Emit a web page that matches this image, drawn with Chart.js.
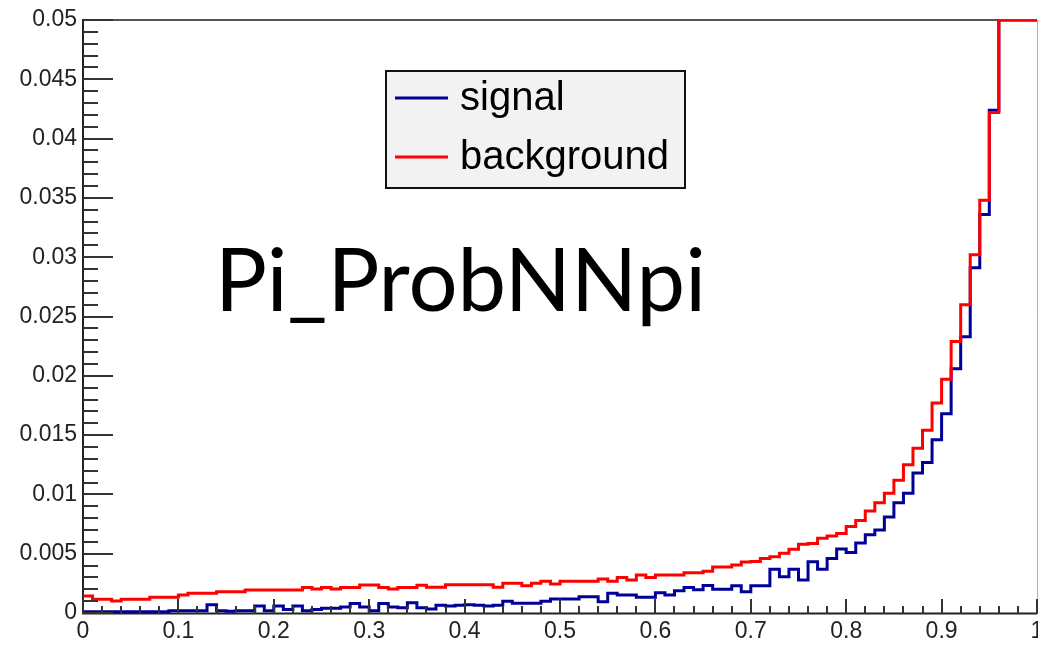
<!DOCTYPE html>
<html>
<head>
<meta charset="utf-8">
<script src="https://cdn.jsdelivr.net/npm/chart.js@4.4.1/dist/chart.umd.min.js"></script>
<style>
  html, body { margin: 0; padding: 0; background: #ffffff; }
  #wrap { width: 1038px; height: 648px; position: relative; }
</style>
</head>
<body>
<div id="wrap"><canvas id="c" width="1038" height="648"></canvas></div>
<script>
// ---- data (100 bins from 0 to 1) ----
const X_MIN = 0, X_MAX = 1, N_BINS = 100;
const Y_MIN = 0, Y_MAX = 0.05;

const seriesNames = ['signal', 'background'];
const plotTitle = 'Pi_ProbNNpi';

const signal = [
  0.0001, 0.0001, 0.0001, 0.0001, 0.0001, 0.0001, 0.0001, 0.0001, 0.0001, 0.0002,
  0.0002, 0.0002, 0.0002, 0.0007, 0.0002, 0.00015, 0.0002, 0.0002, 0.0006, 0.0002,
  0.0006, 0.0003, 0.0006, 0.0002, 0.0003, 0.0004, 0.0004, 0.0005, 0.0008, 0.0005,
  0.0002, 0.0008, 0.0005, 0.00045, 0.00087, 0.00045, 0.00034, 0.00065, 0.0006, 0.00065,
  0.0007, 0.00065, 0.0006, 0.00065, 0.001, 0.00082, 0.00082, 0.00082, 0.001, 0.00118,
  0.00118, 0.00118, 0.00138, 0.00138, 0.00095, 0.00166, 0.00152, 0.00152, 0.00132, 0.00132,
  0.00171, 0.00152, 0.00188, 0.00216, 0.00196, 0.00232, 0.002, 0.002, 0.0023, 0.0018,
  0.0023, 0.0023, 0.00368, 0.00306, 0.00368, 0.00278, 0.00433, 0.00368, 0.0046, 0.0054,
  0.0051, 0.0059, 0.0066, 0.0070, 0.0081, 0.0093, 0.0101, 0.0118, 0.0127, 0.0146,
  0.0168, 0.0206, 0.0233, 0.0291, 0.0336, 0.0424, 0.056, 0.072, 0.095, 0.14
];

const background = [
  0.00143, 0.00115, 0.00115, 0.00101, 0.00115, 0.00115, 0.00115, 0.00132, 0.00132, 0.00132,
  0.00152, 0.00166, 0.00166, 0.00166, 0.0018, 0.0018, 0.0018, 0.00194, 0.00194, 0.00194,
  0.00194, 0.00194, 0.00194, 0.00216, 0.00202, 0.00216, 0.00202, 0.00216, 0.00216, 0.00236,
  0.00236, 0.00216, 0.00202, 0.00216, 0.00214, 0.00234, 0.00217, 0.00217, 0.00239, 0.00239,
  0.00239, 0.00239, 0.00239, 0.00217, 0.0025, 0.0025, 0.0023, 0.0025, 0.00267, 0.00245,
  0.00267, 0.00267, 0.00267, 0.00267, 0.00287, 0.00267, 0.003, 0.00278, 0.0032, 0.003,
  0.0032, 0.0032, 0.0032, 0.0034, 0.0034, 0.00352, 0.00387, 0.00387, 0.00405, 0.0043,
  0.00435, 0.0046, 0.00475, 0.00503, 0.00537, 0.0058, 0.00585, 0.0063, 0.0065, 0.0067,
  0.0073, 0.0078, 0.0086, 0.0093, 0.0101, 0.0112, 0.0125, 0.0139, 0.0154, 0.0177,
  0.0197, 0.0229, 0.026, 0.0302, 0.0348, 0.0422, 0.053, 0.068, 0.09, 0.13
];

const yTickLabels = ['0', '0.005', '0.01', '0.015', '0.02', '0.025', '0.03', '0.035', '0.04', '0.045', '0.05'];
const xTickLabels = ['0', '0.1', '0.2', '0.3', '0.4', '0.5', '0.6', '0.7', '0.8', '0.9', '1'];

// ---- build step points (left edge of every bin + closing right edge) ----
function stepPoints(vals) {
  const w = (X_MAX - X_MIN) / N_BINS;
  const pts = vals.map((v, i) => ({ x: X_MIN + i * w, y: Math.min(v, Y_MAX) }));
  pts.push({ x: X_MAX, y: Math.min(vals[vals.length - 1], Y_MAX) });
  return pts;
}

const COLORS = { signal: '#000099', background: '#ff0000' };
const AXIS_FONT = '"Liberation Sans", Arial, Helvetica, sans-serif';

// ---- ROOT-like frame, ticks, legend and overlay title ----
const rootDecor = {
  id: 'rootDecor',
  beforeDatasetsDraw(chart) {
    const { ctx, chartArea: a } = chart;
    ctx.save();
    ctx.lineCap = 'butt';
    ctx.strokeStyle = '#555555'; ctx.lineWidth = 2;
    ctx.beginPath(); ctx.moveTo(a.left, a.top); ctx.lineTo(a.right, a.top); ctx.stroke();
    ctx.strokeStyle = '#b0b0b0'; ctx.lineWidth = 1;
    ctx.beginPath(); ctx.moveTo(a.right + 0.5, a.top); ctx.lineTo(a.right + 0.5, a.bottom); ctx.stroke();
    ctx.strokeStyle = '#222222'; ctx.lineWidth = 2;
    ctx.beginPath(); ctx.moveTo(a.left, a.top - 1); ctx.lineTo(a.left, a.bottom + 1); ctx.stroke();
    ctx.beginPath(); ctx.moveTo(a.left - 1, a.bottom + 0.5); ctx.lineTo(a.right, a.bottom + 0.5); ctx.stroke();
    ctx.restore();
  },
  afterDatasetsDraw(chart) {
    const { ctx, chartArea: a, scales: { x, y } } = chart;
    ctx.save();
    ctx.lineCap = 'butt';
    // y ticks (inside, pointing right)
    ctx.strokeStyle = '#333333'; ctx.lineWidth = 2;
    for (let k = 0; k <= 50; k++) {
      const v = k * 0.001;
      const py = Math.round(y.getPixelForValue(v));
      const len = (k % 5 === 0) ? 30 : 15;
      ctx.beginPath(); ctx.moveTo(a.left, py); ctx.lineTo(a.left + len, py); ctx.stroke();
    }
    // x ticks (inside, pointing up)
    for (let k = 0; k <= 50; k++) {
      const v = k * 0.02;
      const px = Math.round(x.getPixelForValue(v));
      const len = (k % 5 === 0) ? 14 : 7;
      ctx.beginPath(); ctx.moveTo(px, a.bottom + 1); ctx.lineTo(px, a.bottom - len); ctx.stroke();
    }

    // legend box
    const lx = 386, ly = 71, lw = 299, lh = 117;
    ctx.fillStyle = '#f2f2f2';
    ctx.fillRect(lx, ly, lw, lh);
    ctx.strokeStyle = '#111111'; ctx.lineWidth = 2;
    ctx.strokeRect(lx, ly, lw, lh);
    const rows = [
      { name: seriesNames[0], color: COLORS.signal, yy: 98 },
      { name: seriesNames[1], color: COLORS.background, yy: 157 }
    ];
    ctx.font = '40px ' + AXIS_FONT;
    ctx.textBaseline = 'middle';
    ctx.textAlign = 'left';
    rows.forEach(r => {
      ctx.strokeStyle = r.color; ctx.lineWidth = 3;
      ctx.beginPath(); ctx.moveTo(395, r.yy); ctx.lineTo(448, r.yy); ctx.stroke();
      ctx.fillStyle = '#000000';
      ctx.fillText(r.name, 460, r.yy + 1);
    });

    // overlay title
    const targetW = 491;
    ctx.font = '100px Lato, "Open Sans", sans-serif';
    const w = ctx.measureText(plotTitle).width;
    const size = 100 * targetW / w;
    ctx.font = size.toFixed(1) + 'px Lato, "Open Sans", sans-serif';
    ctx.textBaseline = 'alphabetic';
    ctx.fillStyle = '#000000';
    ctx.fillText(plotTitle, 215, 311);
    ctx.restore();
  }
};

new Chart(document.getElementById('c'), {
  type: 'line',
  data: {
    datasets: [
      {
        label: seriesNames[1],
        data: stepPoints(background),
        borderColor: COLORS.background,
        borderWidth: 3,
        stepped: 'before',
        pointRadius: 0,
        fill: false,
        order: 0
      },
      {
        label: seriesNames[0],
        data: stepPoints(signal),
        borderColor: COLORS.signal,
        borderWidth: 3,
        stepped: 'before',
        pointRadius: 0,
        fill: false,
        order: 1
      }
    ]
  },
  options: {
    responsive: false,
    animation: false,
    devicePixelRatio: 1,
    layout: { padding: { top: 20, right: 1, left: 0, bottom: 0 } },
    plugins: { legend: { display: false }, tooltip: { enabled: false }, title: { display: false } },
    scales: {
      x: {
        type: 'linear',
        min: X_MIN, max: X_MAX,
        grid: { display: false, drawTicks: false },
        border: { display: false },
        ticks: {
          stepSize: 0.1,
          maxRotation: 0,
          autoSkip: false,
          padding: 5,
          color: '#222222',
          font: { family: AXIS_FONT, size: 23 },
          callback: (v, i) => xTickLabels[i]
        },
        afterFit: (s) => { s.height = 35; s.paddingLeft = 0; s.paddingRight = 0; }
      },
      y: {
        type: 'linear',
        min: Y_MIN, max: Y_MAX,
        grid: { display: false, drawTicks: false },
        border: { display: false },
        ticks: {
          stepSize: 0.005,
          autoSkip: false,
          padding: 6,
          color: '#222222',
          font: { family: AXIS_FONT, size: 23 },
          callback: (v, i) => yTickLabels[i]
        },
        afterFit: (s) => { s.width = 83; s.paddingTop = 0; s.paddingBottom = 0; }
      }
    }
  },
  plugins: [rootDecor]
});
</script>
</body>
</html>
